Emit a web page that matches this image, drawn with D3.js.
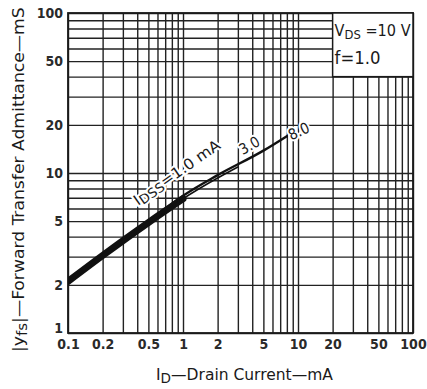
<!DOCTYPE html>
<html>
<head>
<meta charset="utf-8">
<script src="https://cdn.jsdelivr.net/npm/d3@7"></script>
<style>
  html, body { margin: 0; padding: 0; background: #fff; }
  svg { display: block; }
  text { font-family: "DejaVu Sans Condensed", "DejaVu Sans", sans-serif; fill: #1a1a1a; }
  .grid line { stroke: #222; stroke-width: 1.4; }
  .grid path { display: none; }
  .lbl path, .lbl line { display: none; }
  .lbl text { font-size: 14px; font-weight: bold; fill: #2a2a2a; }
</style>
</head>
<body>
<svg id="chart"></svg>
<script>
// |yfs| vs ID, log-log, three IDSS curves
const WIDTH = 427;
const HEIGHT = 389;
const M = { left: 68, right: 14, top: 13, bottom: 56 };

const xTickLabels = [0.1, 0.2, 0.5, 1, 2, 5, 10, 20, 50, 100];
const yTickLabels = [1, 2, 5, 10, 20, 50, 100];

// curves (ID in mA, |yfs| in mS)
const idss1 = { label: '1.0', id: [0.1, 0.2, 0.5, 1.0], yfs: [2.1, 3.05, 4.9, 6.9] };
const idss3 = { label: '3.0', id: [0.1, 0.2, 0.5, 1, 2, 3], yfs: [2.1, 3.05, 4.85, 6.9, 9.3, 10.9] };
const idss8 = { label: '8.0', id: [0.1, 0.2, 0.5, 1, 2, 5, 8], yfs: [2.1, 3.05, 4.9, 7.2, 9.7, 13.8, 17.0] };

const svg = d3.select('#chart').attr('width', WIDTH).attr('height', HEIGHT);

const x = d3.scaleLog().domain([0.1, 100]).range([M.left, WIDTH - M.right]);
const y = d3.scaleLog().domain([1, 100]).range([HEIGHT - M.bottom, M.top]);
const [x0, x1] = x.range();
const [y1, y0] = y.range();

// stretch/squeeze a text along its own direction so it spans `len` px
function fitText(sel, len) {
  const k = len / sel.node().getComputedTextLength();
  sel.attr('transform', `${sel.attr('transform') || ''} scale(${k},1)`);
}

// grid (1..9 per decade)
svg.append('g')
  .attr('class', 'grid')
  .attr('transform', `translate(0,${y1})`)
  .call(d3.axisBottom(x).tickValues(x.ticks()).tickSize(-(y1 - y0)).tickFormat(''));
svg.append('g')
  .attr('class', 'grid')
  .attr('transform', `translate(${x0},0)`)
  .call(d3.axisLeft(y).tickValues(y.ticks()).tickSize(-(x1 - x0)).tickFormat(''));

// frame
svg.append('rect')
  .attr('x', x0).attr('y', y0)
  .attr('width', x1 - x0).attr('height', y1 - y0)
  .attr('fill', 'none').attr('stroke', '#1a1a1a').attr('stroke-width', 1.8);

// condition box (covers the grid in the top-right corner)
svg.append('rect')
  .attr('x', x(20)).attr('y', y(100))
  .attr('width', x(100) - x(20)).attr('height', y(40) - y(100))
  .attr('fill', '#fff').attr('stroke', '#1a1a1a').attr('stroke-width', 1.5);

const vds = svg.append('text')
  .attr('transform', `translate(${x(20) + 2},${y(100) + 23})`)
  .attr('font-size', 15);
vds.append('tspan').text('V');
vds.append('tspan').attr('font-size', 12).attr('dy', 3).text('DS');
vds.append('tspan').attr('dy', -3).text(' =10  V');
fitText(vds, 76);
const fq = svg.append('text')
  .attr('transform', `translate(${x(20) + 2},${y(100) + 51})`)
  .attr('font-size', 18).text('f=1.0');
fitText(fq, 46);

// tick labels
svg.append('g')
  .attr('class', 'lbl')
  .attr('transform', `translate(0,${y1})`)
  .call(d3.axisBottom(x).tickValues(xTickLabels).tickSize(0).tickPadding(6).tickFormat(d3.format('~g')));
svg.append('g')
  .attr('class', 'lbl')
  .attr('transform', `translate(${x0},0)`)
  .call(d3.axisLeft(y).tickValues(yTickLabels).tickSize(0).tickPadding(5).tickFormat(d3.format('~g')))
  .selectAll('text')
  .attr('dy', (d) => (d === 1 ? '-0.05em' : '0.32em'));

// curves
svg.append('clipPath').attr('id', 'plot')
  .append('rect').attr('x', x0).attr('y', y0).attr('width', x1 - x0).attr('height', y1 - y0);

const line = d3.line()
  .x((d) => x(d[0]))
  .y((d) => y(d[1]))
  .curve(d3.curveMonotoneX);

const curves = svg.append('g').attr('clip-path', 'url(#plot)');
[[idss1, 7], [idss3, 1.6], [idss8, 2.4]].forEach(([c, w]) => {
  curves.append('path')
    .datum(d3.zip(c.id, c.yfs))
    .attr('d', line)
    .attr('fill', 'none')
    .attr('stroke', '#111')
    .attr('stroke-width', w)
    .attr('stroke-linecap', 'round');
});

// curve labels, rotated along the lines, with a white halo
function curveLabel(px, py, angle, anchor, build) {
  const t = svg.append('text')
    .attr('transform', `translate(${px},${py}) rotate(${angle})`)
    .attr('text-anchor', anchor)
    .attr('font-size', 15)
    .attr('stroke', '#fff').attr('stroke-width', 4).attr('paint-order', 'stroke')
    .attr('stroke-linejoin', 'round');
  build(t);
  return t;
}
const l1 = curveLabel(138, 206, -35, 'start', (t) => {
  t.append('tspan').text('I');
  t.append('tspan').attr('font-size', 13).attr('dy', 2).text('DSS');
  t.append('tspan').attr('dy', -2).text('=1.0  mA');
});
fitText(l1, 102);
curveLabel(252, 150, -30, 'middle', (t) => t.text('3.0'));
curveLabel(301, 136, -25, 'middle', (t) => t.text('8.0'));

// axis titles
const xt = svg.append('text')
  .attr('transform', 'translate(156,380)')
  .attr('font-size', 16);
xt.append('tspan').text('I');
xt.append('tspan').attr('font-size', 14).attr('dy', 3).text('D');
xt.append('tspan').attr('dy', -3).text('—Drain  Current—mA');
fitText(xt, 177);

const yt = svg.append('text')
  .attr('transform', 'translate(24,352) rotate(-90)')
  .attr('font-size', 16);
yt.append('tspan').text('|y');
yt.append('tspan').attr('font-size', 14).attr('dy', 3).text('fs');
yt.append('tspan').attr('dy', -3).text('|—Forward  Transfer  Admittance—mS');
fitText(yt, 345);
</script>
</body>
</html>
